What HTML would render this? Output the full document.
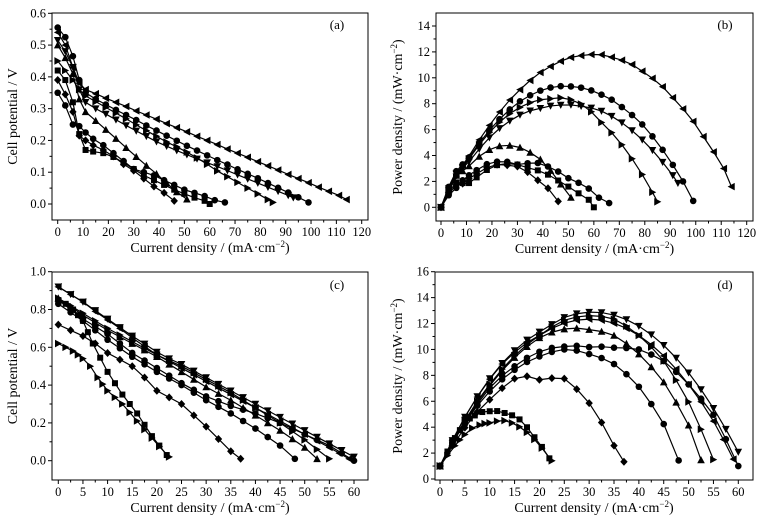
<!DOCTYPE html>
<html><head><meta charset="utf-8">
<style>
body{margin:0;background:#fff;}
svg{display:block;}
svg text{font-family:"Liberation Serif","DejaVu Serif",serif;}
</style></head>
<body>
<svg id="chart" width="771" height="520" viewBox="0 0 771 520" xmlns="http://www.w3.org/2000/svg" font-family="Liberation Serif, serif"></svg>
<script>
// ---- Panel (a) data: cell potential vs current density ----
const aX1=[0,3,6,8.5,11,15,19,23,27,31,35,39,43,47,51,55,59,63,67,71,75,79,83,87,91,95,99,103,107,111,114];
const aV1=[.54,.5,.43,.38,.36,.347,.333,.32,.307,.293,.28,.267,.253,.24,.227,.213,.2,.187,.173,.16,.147,.133,.12,.107,.093,.08,.067,.053,.04,.027,.014];
const aX2=[0,3,6,8.5,11,15,19,23,27,31,35,39,43,47,51,55,59,63,67,71,75,79,83,87,91,95,99];
const aV2=[.555,.525,.465,.39,.35,.33,.313,.296,.28,.264,.247,.231,.215,.199,.183,.168,.153,.138,.124,.109,.095,.081,.066,.051,.036,.021,.005];
const aX3=[0,3,6,8.5,11,15,19,23,27,31,35,39,43,47,51,55,59,63,67,71,75,79,83,87,91,93];
const aV3=[.515,.48,.43,.36,.32,.3,.283,.265,.247,.23,.213,.196,.182,.168,.155,.142,.13,.118,.105,.092,.079,.066,.053,.04,.027,.02];
const aX4=[0,3,6,8.5,11,15,19,23,27,31,35,39,43,47,51,55,59,63,67,71,75,79,83,85];
const aV4=[.45,.42,.39,.36,.34,.322,.304,.286,.268,.249,.231,.213,.195,.18,.163,.145,.125,.104,.086,.068,.05,.032,.014,.005];
const aX5=[0,3,6,8.5,11,15,19,23,27,31,35,39,43,47,51];
const aV5=[.5,.46,.41,.33,.29,.262,.234,.206,.177,.149,.121,.095,.066,.038,.015];
const aX6=[0,3,6,8.5,11,14,18,22,26,30,34,38,42,46,50,54,58,60];
const aV6=[.42,.39,.32,.22,.17,.165,.16,.148,.13,.11,.09,.075,.06,.045,.032,.02,.01,0];
const aX7=[0,3,6,8.5,11,14,18,22,26,30,34,38,42,46,50,54,58,62,66];
const aV7=[.35,.31,.25,.245,.225,.205,.185,.16,.135,.11,.1,.09,.075,.06,.045,.035,.025,.012,.005];
const aX8=[0,3,6,8.5,11,14,18,22,26,30,34,38,42,46];
const aV8=[.39,.345,.29,.215,.2,.185,.17,.15,.125,.105,.08,.055,.035,.01];
// ---- Panel (c) data ----
const cX1=[0,2.5,5,7.5,10,12.5,15,17.5,20,22.5,25,27.5,30,32.5,35,37.5,40,42.5,45,47.5,50,52.5,55,57.5,60];
const cV1=[.92,.88,.84,.795,.75,.705,.66,.618,.575,.54,.51,.475,.44,.405,.37,.335,.3,.265,.23,.195,.16,.125,.09,.055,.02];
const cX2=[0,2.5,5,7.5,10,12.5,15,17.5,20,22.5,25,27.5,30,32.5,35,37.5,40,42.5,45,47.5,50,52.5,55,57,59];
const cV2=[.92,.88,.84,.79,.745,.7,.65,.605,.56,.525,.49,.455,.42,.385,.35,.315,.28,.245,.21,.175,.14,.105,.07,.04,.01];
const cX3=[0,2.5,5,7.5,10,12.5,15,17.5,20,22.5,25,27.5,30,32.5,35,37.5,40,42.5,45,47.5,50,52.5,55];
const cV3=[.86,.82,.78,.74,.7,.665,.63,.595,.56,.53,.5,.465,.43,.395,.36,.32,.28,.24,.2,.155,.11,.06,.01];
const cX4=[0,2.5,5,7.5,10,12.5,15,17.5,20,22.5,25,27.5,30,32.5,35,37.5,40,42.5,45,47.5,50,52.5];
const cV4=[.86,.815,.77,.73,.69,.655,.62,.585,.55,.51,.47,.43,.39,.355,.32,.28,.24,.2,.16,.115,.07,.01];
const cX5=[0,2.5,5,7.5,10,12.5,15,17.5,20,22.5,25,27.5,30,32.5,35,37.5,40,42.5,45,47.5,50,52.5,55,57.5,60];
const cV5=[.85,.8,.75,.71,.67,.62,.57,.53,.49,.45,.41,.375,.34,.315,.29,.27,.25,.225,.2,.17,.14,.11,.08,.04,0];
const cX6=[0,2.5,5,7.5,10,12.5,15,17.5,20,22.5,25,27.5,30,32.5,35,37.5,40,42.5,45,48];
const cV6=[.83,.785,.74,.69,.64,.595,.55,.51,.47,.435,.4,.36,.32,.285,.25,.21,.17,.125,.08,.01];
const cX7=[0,2.5,5,7.5,10,12.5,15,17.5,20,22.5,25,27.5,30,32.5,35,37];
const cV7=[.72,.69,.66,.62,.57,.535,.5,.44,.37,.335,.3,.24,.18,.115,.05,.01];
const cX8=[0,1.5,3,4,5,6,7,8.5,10,11.5,13,14.5,16,17.5,19,20.5,22];
const cV8=[.85,.83,.8,.77,.74,.68,.62,.545,.47,.41,.35,.3,.25,.19,.13,.08,.03];
const cX9=[0,1.5,3,4,5,6.5,8,9,10,11.5,13,14.5,16,17.5,19,20.5,22.5];
const cV9=[.62,.6,.58,.56,.54,.5,.44,.405,.37,.335,.3,.255,.21,.165,.12,.075,.02];
const dOffset=1;   // power curves in (d) start at ~1 on the printed axis
const dScale=0.9;  // printed (d) power scale relative to (c)

const aTicksX=[0,10,20,30,40,50,60,70,80,90,100,110,120];
const aTicksY=[0,0.1,0.2,0.3,0.4,0.5,0.6];
const bTicksY=[0,2,4,6,8,10,12,14];
const cTicksX=[0,5,10,15,20,25,30,35,40,45,50,55,60];
const cTicksY=[0,0.2,0.4,0.6,0.8,1.0];
const dTicksY=[0,2,4,6,8,10,12,14,16];

const NS='http://www.w3.org/2000/svg';
const svg=document.getElementById('chart');
function mk(tag,attrs,parent){const e=document.createElementNS(NS,tag);for(const k in attrs)e.setAttribute(k,attrs[k]);(parent||svg).appendChild(e);return e;}
function lin(d0,d1,p0,p1){return v=>p0+(v-d0)*(p1-p0)/(d1-d0);}
const FF='Liberation Serif, DejaVu Serif, serif';

function marker(g,shape,x,y){
  const s=3.3;let e;
  if(shape==='circle'||shape==='hex'){e=mk('circle',{cx:x,cy:y,r:s},g);}
  else if(shape==='square'){e=mk('rect',{x:x-s+0.3,y:y-s+0.3,width:2*s-0.6,height:2*s-0.6},g);}
  else{
    let p;
    if(shape==='up')p=[[0,-s-0.5],[s+0.5,s],[-s-0.5,s]];
    else if(shape==='down')p=[[0,s+0.5],[s+0.5,-s],[-s-0.5,-s]];
    else if(shape==='left')p=[[-s-0.5,0],[s,-s-0.5],[s,s+0.5]];
    else if(shape==='right')p=[[s+0.5,0],[-s,-s-0.5],[-s,s+0.5]];
    else p=[[0,-s-0.7],[s+0.4,0],[0,s+0.7],[-s-0.4,0]];
    e=mk('polygon',{points:p.map(q=>(x+q[0])+','+(y+q[1])).join(' ')},g);
  }
  e.setAttribute('fill','#000');
  
  
}

function panel(o){
  const g=mk('g',{});
  
  
  const sx=o.sx,sy=o.sy;
  o.tx.forEach((t,i)=>{
    const x=sx(t);
    mk('line',{x1:x,y1:o.box[3],x2:x,y2:o.box[3]+4,stroke:'#000','stroke-width':1},g);
    if(i<o.tx.length-1){const xm=sx((t+o.tx[i+1])/2);mk('line',{x1:xm,y1:o.box[3],x2:xm,y2:o.box[3]+2.5,stroke:'#000','stroke-width':1},g);}
    const tl=mk('text',{x:x,y:o.box[3]+16,'text-anchor':'middle','font-size':12.5,'font-family':FF},g);
    tl.textContent=t;
    
    
  });
  o.ty.forEach((t,i)=>{
    const y=sy(t);
    mk('line',{x1:o.box[0]-4,y1:y,x2:o.box[0],y2:y,stroke:'#000','stroke-width':1},g);
    if(i<o.ty.length-1){const ym=sy((t+o.ty[i+1])/2);mk('line',{x1:o.box[0]-2.5,y1:ym,x2:o.box[0],y2:ym,stroke:'#000','stroke-width':1},g);}
    const tl=mk('text',{x:o.box[0]-6,y:y+4,'text-anchor':'end','font-size':12.5,'font-family':FF},g);
    tl.textContent=o.fmt(t);
    
    
  });
  const frame=mk('rect',{x:o.box[0],y:o.box[1],width:o.box[2]-o.box[0],height:o.box[3]-o.box[1],fill:'none',stroke:'#000','stroke-width':1},g);
  
  
  o.series.forEach(s=>{
    const sg=mk('g',{},g);
    
    
    const pts=s.x.map((x,i)=>[sx(x),sy(o.val(x,s.v[i]))]);
    const pl=mk('polyline',{points:pts.map(p=>p.join(',')).join(' '),fill:'none',stroke:'#000','stroke-width':1.2},sg);
    
    
    pts.forEach(p=>marker(sg,s.shape,p[0],p[1]));
  });
  const xt=mk('text',{x:(o.box[0]+o.box[2])/2,y:o.box[3]+32,'text-anchor':'middle','font-size':14,'font-family':FF},g);
  xt.innerHTML='Current density / (mA·cm<tspan dy="-5" font-size="9">−2</tspan><tspan dy="5">)</tspan>';
  
  
  const cy=(o.box[1]+o.box[3])/2;
  const yt=mk('text',{x:o.ytx,y:cy,'text-anchor':'middle','font-size':14,'font-family':FF,transform:'rotate(-90 '+o.ytx+' '+cy+')'},g);
  yt.innerHTML=o.ytitle;
  
  
  const lb=mk('text',{x:o.lab[0],y:o.lab[1],'text-anchor':'middle','font-size':13,'font-family':FF},g);
  lb.textContent=o.label;
  
  
}

const aSeries=[{x:aX1,v:aV1,shape:'left'},{x:aX2,v:aV2,shape:'circle'},{x:aX3,v:aV3,shape:'down'},{x:aX4,v:aV4,shape:'right'},{x:aX5,v:aV5,shape:'up'},{x:aX6,v:aV6,shape:'square'},{x:aX7,v:aV7,shape:'hex'},{x:aX8,v:aV8,shape:'diamond'}];
const cSeries=[{x:cX1,v:cV1,shape:'down'},{x:cX2,v:cV2,shape:'left'},{x:cX3,v:cV3,shape:'right'},{x:cX4,v:cV4,shape:'up'},{x:cX5,v:cV5,shape:'circle'},{x:cX6,v:cV6,shape:'hex'},{x:cX7,v:cV7,shape:'diamond'},{x:cX8,v:cV8,shape:'square'},{x:cX9,v:cV9,shape:'right'}];
const pTitle='Power density / (mW·cm<tspan dy="-5" font-size="9">−2</tspan><tspan dy="5">)</tspan>';

panel({name:'panel-a',box:[52,13,368,220],sx:lin(0,120,57.7,361.7),sy:lin(0,0.6,204,13.3),tx:aTicksX,ty:aTicksY,fmt:t=>t.toFixed(1),series:aSeries,val:(x,v)=>v,ytitle:'Cell potential / V',ytx:17,label:'(a)',lab:[337,29]});
panel({name:'panel-b',box:[436,13,753,221],sx:lin(0,120,441,746.7),sy:lin(0,14,207.3,26),tx:aTicksX,ty:bTicksY,fmt:t=>t,series:aSeries,val:(x,v)=>x*v,ytitle:pTitle,ytx:402,label:'(b)',lab:[725,29]});
panel({name:'panel-c',box:[52,272,368,480],sx:lin(0,60,58.3,354),sy:lin(0,1,460.7,271.7),tx:cTicksX,ty:cTicksY,fmt:t=>t.toFixed(1),series:cSeries,val:(x,v)=>v,ytitle:'Cell potential / V',ytx:17,label:'(c)',lab:[337,289]});
panel({name:'panel-d',box:[435,272,753,480],sx:lin(0,60,440,738.3),sy:lin(0,16,479,271.7),tx:cTicksX,ty:dTicksY,fmt:t=>t,series:cSeries,val:(x,v)=>x*v*dScale+dOffset,ytitle:pTitle,ytx:402,label:'(d)',lab:[725,289]});
</script>
</body></html>
